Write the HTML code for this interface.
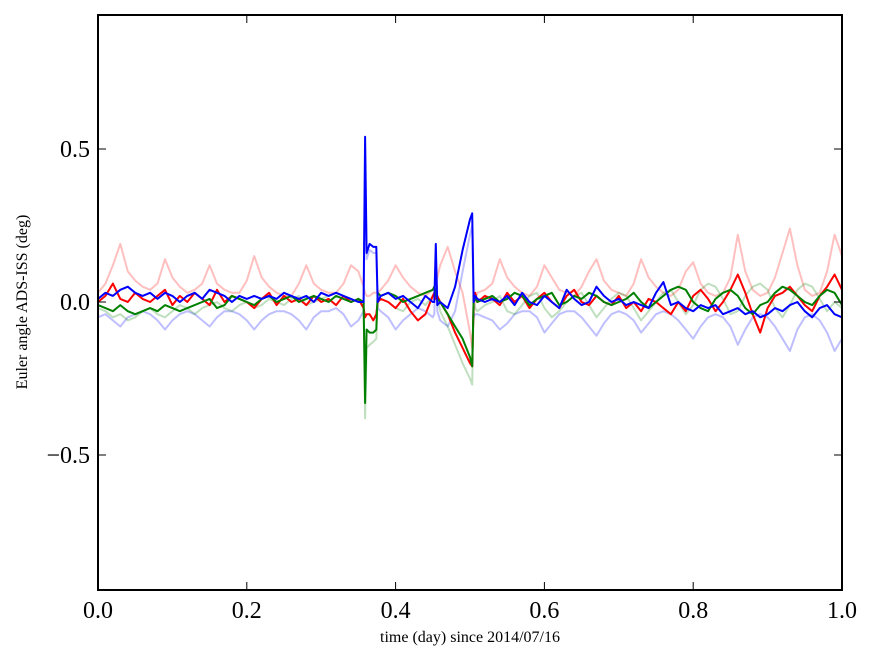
<!DOCTYPE html>
<html><head><meta charset="utf-8"><style>
html,body{margin:0;padding:0;background:#fff;}
svg{display:block;font-family:"Liberation Serif",serif;}
</style></head><body>
<svg id="chart" width="875" height="662"></svg>
<script>
const xs=[0,.01,.02,.03,.04,.05,.06,.07,.08,.09,.10,.11,.12,.13,.14,.15,.16,.17,.18,.19,.20,.21,.22,.23,.24,.25,.26,.27,.28,.29,.30,.31,.32,.33,.34,.35,
.357,.359,.361,.365,.37,.374,.376,.38,
.39,.40,.41,.42,.43,.44,.45,
.452,.454,.456,.46,
.47,.48,.49,.50,
.503,.505,.507,.51,
.52,.53,.54,.55,.56,.57,.58,.59,.60,.61,.62,.63,.64,.65,.66,.67,.68,.69,.70,.71,.72,.73,.74,.75,.76,.77,.78,.79,.80,.81,.82,.83,.84,.85,.86,.87,.88,.89,.90,.91,.92,.93,.94,.95,.96,.97,.98,.99,1.0];
const lightRed=[.03,.06,.12,.19,.1,.07,.05,.04,.06,.14,.08,.05,.03,.04,.06,.12,.06,.04,.03,.03,.07,.15,.08,.05,.03,.02,.02,.06,.12,.06,.04,.03,.03,.06,.12,.1,
.05,.03,.02,.02,.03,.03,.03,.04,
.07,.12,.08,.05,.03,.02,.04,
.05,.06,.08,.12,
.18,.1,.03,-.1,
-.15,-.05,.01,.03,
.04,.06,.14,.08,.05,.03,.02,.05,.12,.08,.04,.03,.02,.05,.1,.14,.07,.04,.03,.02,.06,.14,.08,.05,.03,.02,.04,.1,.13,.06,.03,.02,.03,.08,.22,.1,.04,.02,.03,.08,.16,.24,.12,.04,.02,.03,.1,.22,.15];
const lightBlue=[-.05,-.04,-.06,-.08,-.05,-.04,-.03,-.04,-.06,-.09,-.06,-.04,-.03,-.04,-.06,-.08,-.05,-.03,-.03,-.04,-.06,-.09,-.06,-.04,-.03,-.03,-.04,-.06,-.09,-.05,-.03,-.03,-.02,-.04,-.08,-.06,
-.03,.5,.14,.17,.16,.16,-.02,-.03,
-.05,-.09,-.06,-.04,-.02,-.03,-.05,
-.04,.15,-.03,-.06,
-.08,-.03,.1,.22,
.25,-.05,-.04,-.04,
-.05,-.06,-.09,-.07,-.04,-.03,-.03,-.05,-.1,-.07,-.04,-.03,-.03,-.05,-.08,-.11,-.07,-.04,-.03,-.04,-.06,-.1,-.07,-.04,-.03,-.04,-.06,-.09,-.12,-.08,-.05,-.04,-.05,-.08,-.14,-.09,-.05,-.04,-.05,-.08,-.12,-.16,-.09,-.05,-.04,-.06,-.1,-.16,-.12];
const lightGreen=[-.02,-.03,-.05,-.04,-.06,-.05,-.03,-.02,-.04,-.05,-.03,-.01,-.02,-.04,-.02,-.01,0,-.02,-.03,-.01,0,-.02,-.01,.01,0,-.01,.01,.02,-.01,0,.01,.02,.03,.02,0,.01,
0,-.38,-.15,-.14,-.13,-.12,.02,.01,
0,-.02,-.03,0,.01,-.01,.02,
.03,.04,.02,-.03,
-.08,-.14,-.2,-.25,
-.27,0,-.02,-.03,
-.01,0,.02,-.03,-.04,-.01,.02,.03,-.02,-.05,-.03,0,.02,.03,-.01,-.05,-.02,.01,.03,.02,-.02,-.06,-.03,0,.03,.04,0,-.04,-.01,.04,.06,.05,.01,-.04,-.03,.02,.05,.06,.04,-.02,-.05,-.01,.04,.06,.05,.01,-.03,0,-.02];
const blueVals=[.01,.03,.02,.04,.05,.03,.02,.03,.01,.03,.02,0,.02,.03,.01,.04,.03,.02,0,.02,.01,.02,.01,.02,.01,.03,.02,.01,.02,0,.03,.02,.03,.02,.01,0,
0,.54,.16,.19,.18,.18,0,.02,
.03,.01,.02,0,-.02,.02,0,
0,.19,-.01,0,
-.02,.05,.17,.27,
.29,0,.02,.01,
0,.01,0,.02,-.01,.03,0,-.01,.02,0,-.02,.04,.01,-.01,0,.05,.02,0,.01,-.01,0,-.01,-.02,.03,.065,-.01,0,-.02,-.03,-.01,-.02,-.01,-.04,-.03,-.02,-.04,-.03,-.05,-.04,-.02,-.03,-.01,0,-.03,-.05,-.02,-.01,-.04,-.05];
const redVals=[0,.02,.06,.01,0,.03,.01,0,.02,.04,-.01,.02,0,.03,.01,-.01,.04,0,.02,.01,0,-.02,.01,.03,-.01,.02,0,.01,-.01,.02,0,.01,-.01,.02,0,.01,
-.02,-.05,-.04,-.04,-.06,-.04,0,.01,
0,-.02,.01,-.03,-.06,-.04,.02,
.03,.01,.02,0,
-.04,-.1,-.15,-.2,
-.21,.02,.03,0,
.02,.01,-.01,.03,0,.02,-.02,.01,.03,0,-.02,.02,.04,0,-.01,.02,0,-.01,.02,-.02,0,-.03,.01,0,-.02,-.04,0,-.03,.02,.04,.01,-.03,0,.04,.09,.03,-.04,-.1,-.02,.02,.03,.05,.02,-.01,-.03,.02,.05,.09,.04];
const greenVals=[-.01,-.02,-.03,-.01,-.03,-.04,-.03,-.02,-.03,-.01,-.02,-.03,-.02,-.01,0,.01,-.02,-.01,.02,.01,0,-.01,.01,.02,0,.01,.02,0,.01,.02,.01,0,.02,.01,0,.01,
0,-.33,-.09,-.1,-.1,-.09,.03,.02,
.03,.02,0,.01,.02,.03,.04,
.05,.03,.01,0,
-.04,-.08,-.12,-.18,
-.21,.02,.01,0,
.01,.02,0,.01,.03,.02,-.01,.01,.02,.03,-.01,0,.02,.01,.03,.02,0,-.01,0,.01,.03,0,-.02,0,.02,.04,.05,.04,0,-.02,-.03,.01,.03,.04,.02,-.02,-.04,-.01,0,.03,.05,.04,.02,0,-.01,.02,.04,.03,-.01];
const xTicks=[0,.2,.4,.6,.8,1.0];
const xTickLabels=["0.0","0.2","0.4","0.6","0.8","1.0"];
const yTicks=[-.5,0,.5];
const yTickLabels=["\u22120.5","0.0","0.5"];

const L=98,R=842,T=15,B=590,Y0=302,YS=306;
const sx=v=>L+v*(R-L);
const sy=v=>Y0-v*YS;
const svg=document.getElementById('chart');
const NS='http://www.w3.org/2000/svg';
function mk(tag,attrs){const e=document.createElementNS(NS,tag);for(const k in attrs)e.setAttribute(k,attrs[k]);svg.appendChild(e);return e;}

const clip=document.createElementNS(NS,'clipPath');clip.setAttribute('id','pc');
const cr=document.createElementNS(NS,'rect');cr.setAttribute('x',L);cr.setAttribute('y',T);cr.setAttribute('width',R-L);cr.setAttribute('height',B-T);
clip.appendChild(cr);svg.appendChild(clip);

const series=[
 ['light-red-series',lightRed,'#ff0000',0.25],
 ['light-blue-series',lightBlue,'#0000ff',0.25],
 ['light-green-series',lightGreen,'#008000',0.25],
 ['red-series',redVals,'#ff0000',1],
 ['green-series',greenVals,'#008000',1],
 ['blue-series',blueVals,'#0000ff',1]
];
series.forEach(s=>{
 const d=s[1].map((v,i)=>(i?'L':'M')+sx(xs[i]).toFixed(1)+','+sy(v).toFixed(1)).join('');
 const p=mk('path',{d:d,fill:'none',stroke:s[2],'stroke-opacity':s[3],'stroke-width':2,'stroke-linejoin':'round','clip-path':'url(#pc)'});
 
 
});

const frame=mk('rect',{x:L,y:T,width:R-L,height:B-T,fill:'none',stroke:'#000','stroke-width':2});



xTicks.forEach((v,i)=>{
 const x=sx(v);
 mk('line',{x1:x,y1:B,x2:x,y2:B-8,stroke:'#000','stroke-width':1});
 mk('line',{x1:x,y1:T,x2:x,y2:T+8,stroke:'#000','stroke-width':1});
 const t=mk('text',{x:x,y:B+28,'text-anchor':'middle','font-size':24});
 t.textContent=xTickLabels[i];
 
 
});
yTicks.forEach((v,i)=>{
 const y=sy(v);
 mk('line',{x1:L,y1:y,x2:L+8,y2:y,stroke:'#000','stroke-width':1});
 mk('line',{x1:R,y1:y,x2:R-8,y2:y,stroke:'#000','stroke-width':1});
 const t=mk('text',{x:L-8,y:y+8,'text-anchor':'end','font-size':24});
 t.textContent=yTickLabels[i];
 
 
});
const xt=mk('text',{x:470,y:642,'text-anchor':'middle','font-size':16});
xt.textContent='time (day) since 2014/07/16';


const yt=mk('text',{x:0,y:0,'text-anchor':'middle','font-size':16,transform:'translate(27,302) rotate(-90)'});
yt.textContent='Euler angle ADS-ISS (deg)';


</script>
</body></html>
